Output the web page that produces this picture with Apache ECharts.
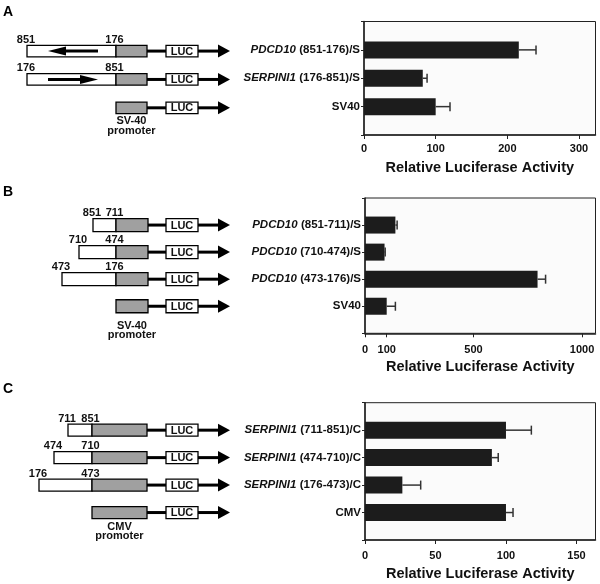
<!DOCTYPE html>
<html><head><meta charset="utf-8">
<script src="https://cdn.jsdelivr.net/npm/echarts@6/dist/echarts.min.js"></script>
<style>html,body{margin:0;padding:0;background:#fff}#c{width:600px;height:584px}</style>
</head><body><div id="c"></div>
<script>
// ---------- DATA ----------
// Panel A
const genesA = ['PDCD10', 'SERPINI1', ''];
const constructsA = ['(851-176)/S', '(176-851)/S', 'SV40'];
const valuesA = [216, 82, 100];
const errorsA = [24, 6, 20];
const ticksA = [0, 100, 200, 300];
const numLeftA = ['851', '176', ''];
const numRightA = ['176', '851', ''];
// Panel B
const genesB = ['PDCD10', 'PDCD10', 'PDCD10', ''];
const constructsB = ['(851-711)/S', '(710-474)/S', '(473-176)/S', 'SV40'];
const valuesB = [140, 90, 795, 100];
const errorsB = [8, 3, 37, 40];
const ticksB = [0, 100, 500, 1000];
const numLeftB = ['851', '710', '473', ''];
const numRightB = ['711', '474', '176', ''];
// Panel C
const genesC = ['SERPINI1', 'SERPINI1', 'SERPINI1', ''];
const constructsC = ['(711-851)/C', '(474-710)/C', '(176-473)/C', 'CMV'];
const valuesC = [100, 90, 26.5, 100];
const errorsC = [18, 4.5, 13, 5];
const ticksC = [0, 50, 100, 150];
const numLeftC = ['711', '474', '176', ''];
const numRightC = ['851', '710', '473', ''];
const axisTitle = 'Relative Luciferase Activity';

// ---------- SCHEMATIC GEOMETRY (diagram drawing units) ----------
const FONT = '"Liberation Sans", Arial, Helvetica, sans-serif';
const LUC = [166, 198];
const ARROW = [198, 218, 230];
const schemA = {prom:[116,147], ins:[27,27,null], inner:[[98,48],[48,98],null], boxH:11.5, dy:1.2, cap:['SV-40','promoter'], capDy:[13.5,23]};
const schemB = {prom:[116,148], ins:[93,79,62,null], inner:[null,null,null,null], boxH:13, dy:0, cap:['SV-40','promoter'], capDy:[20,29]};
const schemC = {prom:[92,147], ins:[68,54,39,null], inner:[null,null,null,null], boxH:12, dy:0, cap:['CMV','promoter'], capDy:[14.5,23.5]};

const panels = [
  {genes:genesA, cons:constructsA, vals:valuesA, errs:errorsA, ticks:ticksA, nl:numLeftA, nr:numRightA, s:schemA,
   left:364, top:21.5, height:113.5, max:323, lm:8, ng:25},
  {genes:genesB, cons:constructsB, vals:valuesB, errs:errorsB, ticks:ticksB, nl:numLeftB, nr:numRightB, s:schemB,
   left:365, top:198, height:135.3, max:1062, lm:11.5, ng:26},
  {genes:genesC, cons:constructsC, vals:valuesC, errs:errorsC, ticks:ticksC, nl:numLeftC, nr:numRightC, s:schemC,
   left:365, top:402.7, height:137.3, max:163.5, lm:10.5, ng:26}
];

const grids = [], xAxes = [], yAxes = [], series = [];
const RIGHT_EDGE = 595.5;

panels.forEach((p, k) => {
  const n = p.vals.length;
  const keys = ['t'].concat(p.vals.map((_, i) => 'r' + i)).concat(['b']);
  const chartIdx = grids.length;
  grids.push({left:p.left, top:p.top, width:RIGHT_EDGE - p.left, height:p.height,
    show:true, backgroundColor:'#fbfbfb', borderColor:'#222', borderWidth:1});
  xAxes.push({gridIndex:chartIdx, type:'value', min:0, max:p.max,
    axisLine:{show:true, lineStyle:{color:'#222', width:1.5}},
    axisTick:{show:true, length:4, customValues:p.ticks, lineStyle:{color:'#222', width:1}},
    axisLabel:{customValues:p.ticks, fontSize:11, fontWeight:'bold', color:'#111', margin:p.lm, fontFamily:FONT,
      formatter:v => String(v)},
    splitLine:{show:false},
    name:axisTitle, nameLocation:'middle', nameGap:p.ng,
    nameTextStyle:{fontSize:14.5, fontWeight:'bold', color:'#111', fontFamily:FONT}});
  yAxes.push({gridIndex:chartIdx, type:'category', data:keys, inverse:true, boundaryGap:false,
    axisLine:{show:true, lineStyle:{color:'#222', width:1.5}},
    axisTick:{show:true, length:3, interval:0, lineStyle:{color:'#222', width:1}},
    axisLabel:{interval:0, margin:4, fontFamily:FONT,
      formatter:(v, idx) => {
        if (idx < 1 || idx > n) return '';
        const g = p.genes[idx - 1];
        return (g ? '{i|' + g + '} ' : '') + '{n|' + p.cons[idx - 1] + '}';
      },
      rich:{i:{fontStyle:'italic', fontWeight:'bold', fontSize:11.5, color:'#111', fontFamily:FONT},
            n:{fontWeight:'bold', fontSize:11.5, color:'#111', fontFamily:FONT}}},
    splitLine:{show:false}});
  series.push({type:'bar', xAxisIndex:chartIdx, yAxisIndex:chartIdx, barWidth:17,
    itemStyle:{color:'#1c1c1c'}, data:p.vals.map((v, i) => [v, i + 1]), encode:{x:0, y:1}, z:3});
  series.push({type:'custom', xAxisIndex:chartIdx, yAxisIndex:chartIdx, z:4,
    data:p.vals.map((v, i) => [v, i + 1, p.errs[i]]), encode:{x:0, y:1},
    renderItem:(params, api) => {
      const v = api.value(0), r = api.value(1), e = api.value(2);
      const a = api.coord([v, r]), b = api.coord([v + e, r]);
      return {type:'group', children:[
        {type:'line', shape:{x1:a[0], y1:a[1], x2:b[0], y2:b[1]}, style:{stroke:'#333', lineWidth:1.5}},
        {type:'line', shape:{x1:b[0], y1:b[1] - 4.5, x2:b[0], y2:b[1] + 4.5}, style:{stroke:'#333', lineWidth:1.5}}
      ]};
    }});

  // diagram grid
  const dIdx = grids.length;
  grids.push({left:0, top:p.top, width:240, height:p.height, show:false});
  xAxes.push({gridIndex:dIdx, type:'value', min:0, max:240, show:false});
  yAxes.push({gridIndex:dIdx, type:'category', data:keys, inverse:true, boundaryGap:false, show:false});
  const s = p.s;
  series.push({type:'custom', xAxisIndex:dIdx, yAxisIndex:dIdx, clip:false, silent:true,
    data:p.vals.map((v, i) => [0, i + 1]), encode:{x:0, y:1},
    renderItem:(params, api) => {
      const i = params.dataIndex, r = api.value(1);
      const X = u => api.coord([u, r])[0];
      const yc = api.coord([0, r])[1] + s.dy;
      const h = s.boxH, top = yc - h / 2;
      const ch = [];
      const numFont = 'bold 11px ' + FONT;
      // connectors
      ch.push({type:'line', shape:{x1:X(s.prom[1]), y1:yc, x2:X(LUC[0]), y2:yc}, style:{stroke:'#000', lineWidth:3}});
      ch.push({type:'line', shape:{x1:X(ARROW[0]), y1:yc, x2:X(ARROW[1]) + 1, y2:yc}, style:{stroke:'#000', lineWidth:3}});
      ch.push({type:'polygon', shape:{points:[[X(ARROW[1]), yc - 6.5], [X(ARROW[2]), yc], [X(ARROW[1]), yc + 6.5]]}, style:{fill:'#000'}});
      // insert
      const ins = s.ins[i];
      if (ins != null) {
        ch.push({type:'rect', shape:{x:X(ins), y:top, width:X(s.prom[0]) - X(ins), height:h}, style:{fill:'#fff', stroke:'#000', lineWidth:1.3}});
        ch.push({type:'text', x:X(ins) - 1, y:top - 5.5, style:{text:p.nl[i], font:numFont, fill:'#111', align:'center', verticalAlign:'middle'}});
        ch.push({type:'text', x:X(s.prom[0]) - 1.5, y:top - 5.5, style:{text:p.nr[i], font:numFont, fill:'#111', align:'center', verticalAlign:'middle'}});
      }
      // promoter
      ch.push({type:'rect', shape:{x:X(s.prom[0]), y:top, width:X(s.prom[1]) - X(s.prom[0]), height:h}, style:{fill:'#a0a0a0', stroke:'#000', lineWidth:1.3}});
      // LUC
      ch.push({type:'rect', shape:{x:X(LUC[0]), y:top, width:X(LUC[1]) - X(LUC[0]), height:h}, style:{fill:'#fff', stroke:'#000', lineWidth:1.3}});
      ch.push({type:'text', x:(X(LUC[0]) + X(LUC[1])) / 2, y:yc + 0.5, style:{text:'LUC', font:numFont, fill:'#111', align:'center', verticalAlign:'middle'}});
      // inner direction arrow
      const ia = s.inner[i];
      if (ia) {
        const tail = X(ia[0]), tip = X(ia[1]);
        const dir = tip > tail ? 1 : -1;
        const hb = tip - dir * 18;
        ch.push({type:'line', shape:{x1:tail, y1:yc, x2:hb + dir, y2:yc}, style:{stroke:'#000', lineWidth:3}});
        ch.push({type:'polygon', shape:{points:[[hb, yc - 4.5], [tip, yc], [hb, yc + 4.5]]}, style:{fill:'#000'}});
      }
      // caption under promoter-only row
      if (ins == null) {
        const cx = (X(s.prom[0]) + X(s.prom[1])) / 2;
        ch.push({type:'text', x:cx, y:yc + s.capDy[0], style:{text:s.cap[0], font:'bold 11px ' + FONT, fill:'#111', align:'center', verticalAlign:'middle'}});
        ch.push({type:'text', x:cx, y:yc + s.capDy[1], style:{text:s.cap[1], font:'bold 11px ' + FONT, fill:'#111', align:'center', verticalAlign:'middle'}});
      }
      return {type:'group', children:ch};
    }});
});

const chart = echarts.init(document.getElementById('c'), null, {renderer:'canvas'});
chart.setOption({
  animation:false,
  backgroundColor:'#fff',
  textStyle:{fontFamily:FONT},
  grid:grids, xAxis:xAxes, yAxis:yAxes, series:series,
  graphic:[
    {type:'text', left:3, top:5, style:{text:'A', font:'bold 14px ' + FONT, fill:'#000'}},
    {type:'text', left:3, top:185, style:{text:'B', font:'bold 14px ' + FONT, fill:'#000'}},
    {type:'text', left:3, top:382, style:{text:'C', font:'bold 14px ' + FONT, fill:'#000'}}
  ]
});
</script></body></html>
